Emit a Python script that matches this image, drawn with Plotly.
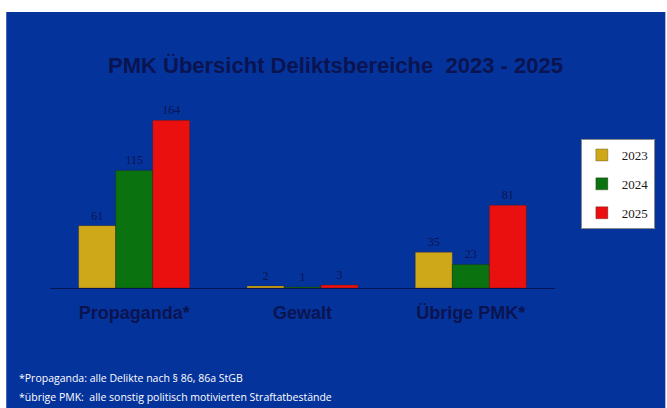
import plotly.graph_objects as go

categories = ["Propaganda*", "Gewalt", "Übrige PMK*"]
years = ["2023", "2024", "2025"]
values_2023 = [61, 2, 35]
values_2024 = [115, 1, 23]
values_2025 = [164, 3, 81]
series = [values_2023, values_2024, values_2025]
colors = ["#cfa81a", "#0a720e", "#ea1010"]

title_text = "PMK Übersicht Deliktsbereiche  2023 - 2025"
footnotes = [
    "*Propaganda: alle Delikte nach § 86, 86a StGB",
    "*übrige PMK:  alle sonstig politisch motivierten Straftatbestände",
]

W, H = 667, 408
ml, mr, mt, mb = 50, 109, 104, 120
pw, ph = W - ml - mr, H - mt - mb

def px_x(x):
    return (x - ml) / pw

def px_y(y):
    return (H - mb - y) / ph

fig = go.Figure()
for name, vals, col in zip(years, series, colors):
    fig.add_trace(go.Bar(
        x=categories, y=vals, name=name, legendgroup=name,
        marker=dict(color=col, line=dict(color="rgba(40,30,10,0.5)", width=0.6)),
        text=[str(v) for v in vals], textposition="outside",
        textfont=dict(family="Liberation Serif", size=12, color="#0a1450"),
        cliponaxis=False,
    ))

# blue slide background
fig.add_shape(type="rect", xref="paper", yref="paper",
              x0=px_x(6), x1=px_x(W + 2), y0=px_y(12), y1=px_y(H + 2),
              fillcolor="#05339c", line=dict(width=0), layer="below")

fig.add_annotation(text="<b>" + title_text + "</b>", xref="paper", yref="paper",
                   x=px_x(337), y=px_y(65), showarrow=False,
                   font=dict(family="Liberation Sans", size=22, color="#0a1450"),
                   xanchor="center", yanchor="middle")

for i, t in enumerate(footnotes):
    fig.add_annotation(text=t, xref="paper", yref="paper",
                       x=px_x(17), y=px_y(378 + 19 * i), showarrow=False,
                       xanchor="left", yanchor="middle",
                       font=dict(family="Open Sans", size=10.5, color="white"))

fig.update_layout(
    width=W, height=H, autosize=False,
    margin=dict(l=ml, r=mr, t=mt, b=mb),
    paper_bgcolor="white", plot_bgcolor="rgba(0,0,0,0)",
    barmode="group", bargap=0.34, bargroupgap=0.0,
    showlegend=True,
    legend=dict(x=px_x(584), y=px_y(139), xanchor="left", yanchor="top",
                bgcolor="white", bordercolor="#8a8a8a", borderwidth=1,
                font=dict(family="Liberation Serif", size=13, color="#1a1a1a"),
                tracegroupgap=9, itemwidth=30),
    xaxis=dict(showline=True, linecolor="#0a1450", linewidth=1,
               ticks="outside", ticklen=8, tickcolor="rgba(0,0,0,0)",
               tickfont=dict(family="Liberation Sans", size=18, color="#0a1450"),
               tickvals=categories,
               ticktext=["<b>" + c + "</b>" for c in categories],
               showgrid=False, fixedrange=True),
    yaxis=dict(range=[0, 180], visible=False, showgrid=False, fixedrange=True),
)

fig.write_html("out.html")
